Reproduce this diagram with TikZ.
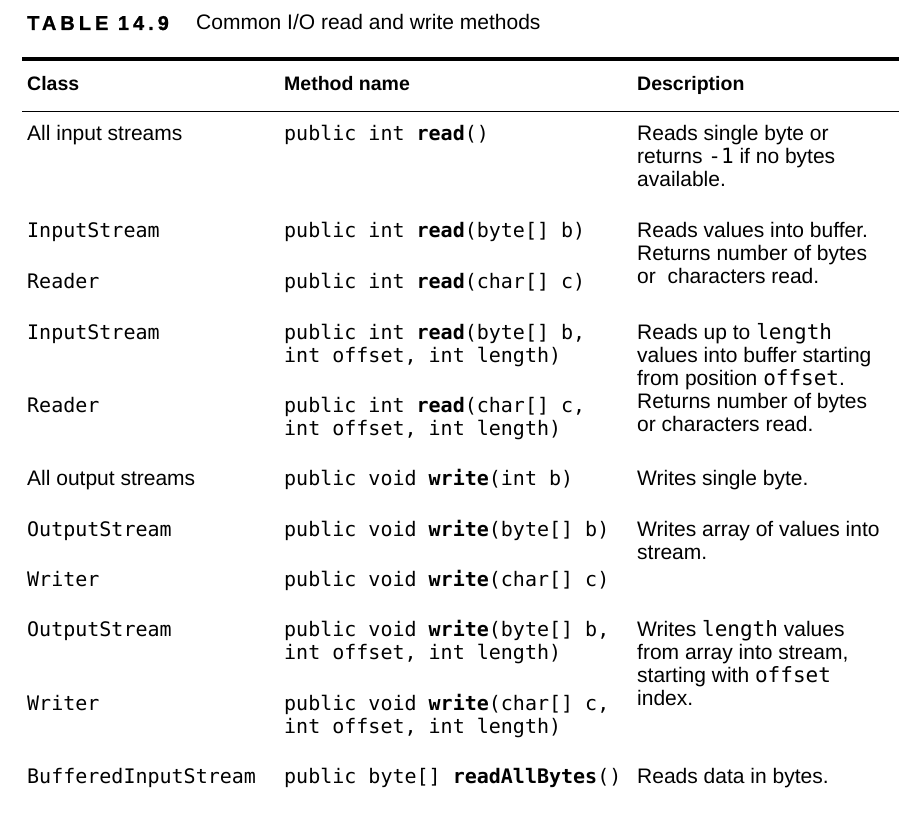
\documentclass[tikz,border=0pt]{standalone}
\usepackage{fontspec}
\setmainfont{Liberation Sans}
\setmonofont{DejaVu Sans Mono}

\newcommand{\cell}[1]{\begin{tabular}[t]{@{}l@{}}#1\end{tabular}}

\begin{document}
\begin{tikzpicture}[x=1pt,y=-1pt,
  txt/.style={anchor=base west,inner sep=0pt,font=\fontsize{21}{23}\selectfont},
  code/.style={anchor=base west,inner sep=0pt,font=\fontsize{20}{23}\selectfont\ttfamily},
  hdr/.style={anchor=base west,inner sep=0pt,font=\fontsize{19.5}{23}\selectfont\bfseries},
  rule/.style={line width=#1,draw=black}]
\useasboundingbox (0,0) rectangle (899,834);

% define the title and the head of the table
  \node[hdr, font=\fontsize{20}{23}\selectfont\bfseries\addfontfeature{LetterSpace=20,FakeBold=1.2}] (tnum) at (27,30) {TABLE 14.9};
  \node[txt] (tcap) at (196,30) {Common I/O read and write methods};
  \draw[rule=4pt] (22,59.2) -- (899,59.2);
  \node[hdr] (hcls)  at (27,91)  {Class};
  \node[hdr] (hmeth) at (284,91) {Method name};
  \node[hdr] (hdesc) at (637,91) {Description};
  \draw[rule=1pt] (22,112) -- (899,112);

% define the read rows
  \node[txt]  (c1) at (27,141)  {All input streams};
  \node[code] (m1) at (284,141) {public int \textbf{read}()};
  \node[txt]  (d1) at (637,141) {\cell{Reads single byte or\\returns \texttt{-1} if no bytes\\available.}};

  \node[code] (c2) at (27,238)  {InputStream};
  \node[code] (m2) at (284,238) {public int \textbf{read}(byte[] b)};
  \node[txt]  (d2) at (637,238) {\cell{Reads values into buffer.\\Returns number of bytes\\or\ \ characters read.}};
  \node[code] (c3) at (27,288)  {Reader};
  \node[code] (m3) at (284,288) {public int \textbf{read}(char[] c)};

  \node[code] (c4) at (27,339)  {InputStream};
  \node[code] (m4) at (284,339) {\cell{public int \textbf{read}(byte[] b,\\int offset, int length)}};
  \node[txt]  (d4) at (637,339) {\cell{Reads up to \texttt{length}\\values into buffer starting\\from position \texttt{offset}.\\Returns number of bytes\\or characters read.}};
  \node[code] (c5) at (27,412)  {Reader};
  \node[code] (m5) at (284,412) {\cell{public int \textbf{read}(char[] c,\\int offset, int length)}};

% define the write rows
  \node[txt]  (c6) at (27,485)  {All output streams};
  \node[code] (m6) at (284,485) {public void \textbf{write}(int b)};
  \node[txt]  (d6) at (637,485) {Writes single byte.};

  \node[code] (c7) at (27,536)  {OutputStream};
  \node[code] (m7) at (284,536) {public void \textbf{write}(byte[] b)};
  \node[txt]  (d7) at (637,536) {\cell{Writes array of values into\\stream.}};
  \node[code] (c8) at (27,586)  {Writer};
  \node[code] (m8) at (284,586) {public void \textbf{write}(char[] c)};

  \node[code] (c9) at (27,636)  {OutputStream};
  \node[code] (m9) at (284,636) {\cell{public void \textbf{write}(byte[] b,\\int offset, int length)}};
  \node[txt]  (d9) at (637,636) {\cell{Writes \texttt{length} values\\from array into stream,\\starting with \texttt{offset}\\index.}};
  \node[code] (c10) at (27,710)  {Writer};
  \node[code] (m10) at (284,710) {\cell{public void \textbf{write}(char[] c,\\int offset, int length)}};

  \node[code] (c11) at (27,783)  {BufferedInputStream};
  \node[code] (m11) at (284,783) {public byte[] \textbf{readAllBytes}()};
  \node[txt]  (d11) at (637,783) {Reads data in bytes.};

\end{tikzpicture}
\end{document}
